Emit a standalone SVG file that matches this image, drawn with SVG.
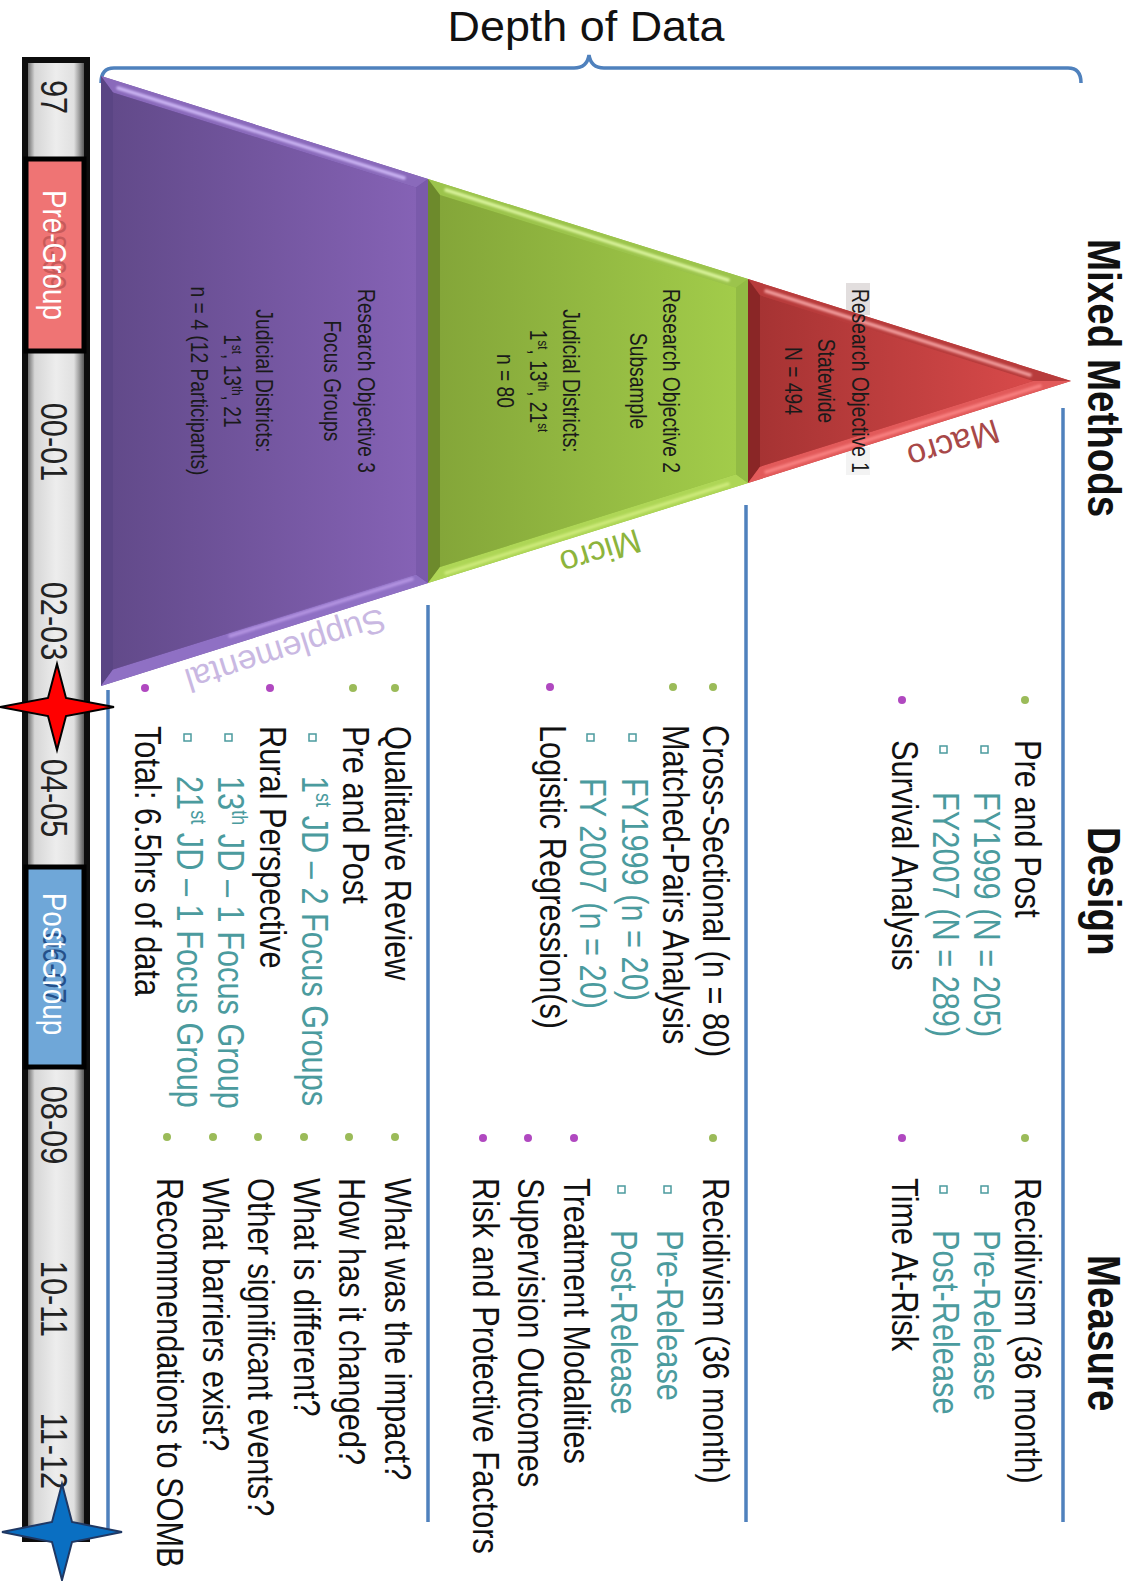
<svg xmlns="http://www.w3.org/2000/svg" width="1132" height="1581" viewBox="0 0 1132 1581">
<defs>
<style>
.t{font-family:"Liberation Sans",Arial,sans-serif;font-size:37.5px;fill:#111}
.tl{fill:#4b9b9e}
.h{font-family:"Liberation Sans",Arial,sans-serif;font-size:47px;font-weight:bold;fill:#111}
.f{font-family:"Liberation Sans",Arial,sans-serif;font-size:23.5px;fill:#1a1a1a;text-anchor:middle}
.y{font-family:"Liberation Sans",Arial,sans-serif;font-size:37.5px;fill:#222;text-anchor:middle}
.bg{fill:#9bbb59}
.bp{fill:#b048c0}
.sq{fill:#fff;stroke:#4b9b9e;stroke-width:1.5}
.div{stroke:#4f81bd;stroke-width:3.5;fill:none}
.lbl{font-family:"Liberation Sans",Arial,sans-serif;font-size:34px;text-anchor:middle}
.hl{fill:none;stroke-width:3.5;stroke-linecap:round;filter:url(#soft)}
</style>
<filter id="soft" x="-10%" y="-10%" width="120%" height="120%"><feGaussianBlur stdDeviation="1.2"/></filter>
<linearGradient id="gP" x1="0" y1="0" x2="1" y2="0"><stop offset="0" stop-color="#624a8a"/><stop offset="1" stop-color="#8562b5"/></linearGradient>
<linearGradient id="gG" x1="0" y1="0" x2="1" y2="0"><stop offset="0" stop-color="#84a639"/><stop offset="1" stop-color="#a2cc4a"/></linearGradient>
<linearGradient id="gR" x1="0" y1="0" x2="1" y2="0"><stop offset="0" stop-color="#a63333"/><stop offset="1" stop-color="#d84a4a"/></linearGradient>
<linearGradient id="gBar" x1="0" y1="0" x2="1" y2="0"><stop offset="0" stop-color="#707070"/><stop offset="0.12" stop-color="#d6d6d6"/><stop offset="0.5" stop-color="#ededed"/><stop offset="0.82" stop-color="#e0e0e0"/><stop offset="0.9" stop-color="#a8a8a8"/><stop offset="1" stop-color="#5a5a5a"/></linearGradient>
</defs>
<rect width="1132" height="1581" fill="#fff"/>

<g id="title">
<text x="586" y="41" text-anchor="middle" font-family="Liberation Sans, Arial, sans-serif" font-size="42" fill="#111" textLength="277" lengthAdjust="spacingAndGlyphs">Depth of Data</text>
</g>

<g id="connectors">
<path class="div" d="M101,83 Q101,68 114,68 L574,68 Q587,68 589,55 Q591,68 604,68 L1068,68 Q1081,68 1081,83"/>
<line class="div" x1="1063" y1="408" x2="1063" y2="1522"/>
<line class="div" x1="746" y1="505" x2="746" y2="1522"/>
<line class="div" x1="428" y1="605" x2="428" y2="1522"/>
<line class="div" x1="108" y1="690" x2="108" y2="1530"/>
</g>

<g id="timeline">
<rect x="22" y="57" width="68" height="1485" fill="#0d0d0d"/>
<rect x="28" y="63" width="56" height="1473" fill="url(#gBar)"/>
<rect x="26" y="159" width="58" height="192" fill="#ef7474" stroke="#000" stroke-width="5"/>
<rect x="26" y="867" width="58" height="200" fill="#6fa7d8" stroke="#000" stroke-width="5"/>
<g transform="translate(1132 0) rotate(90)">
<text class="y" transform="matrix(.82 0 0 1 97 1091)">97</text>
<text class="y" style="fill:#c75a5a;font-size:34px" transform="matrix(.82 0 0 1 255 1089)">98-99</text>
<text class="y" style="fill:#fff;font-size:34px" transform="matrix(.82 0 0 1 255 1089)">Pre-Group</text>
<text class="y" transform="matrix(.82 0 0 1 442 1091)">00-01</text>
<text class="y" transform="matrix(.82 0 0 1 621 1091)">02-03</text>
<text class="y" transform="matrix(.82 0 0 1 798 1091)">04-05</text>
<text class="y" style="fill:#24508a;font-size:34px" transform="matrix(.82 0 0 1 968 1089)">06-07</text>
<text class="y" style="fill:#fff;font-size:34px" transform="matrix(.82 0 0 1 964 1089)">Post-Group</text>
<text class="y" transform="matrix(.82 0 0 1 1125 1091)">08-09</text>
<text class="y" transform="matrix(.82 0 0 1 1299 1091)">10-11</text>
<text class="y" transform="matrix(.82 0 0 1 1451 1091)">11-12</text>
</g>
<path d="M0,707 L48,698 L57,664 L66,698 L114,707 L66,716 L57,750 L48,716 Z" fill="#ff0000" stroke="#000" stroke-width="2"/>
<path d="M2,1532 L52,1522 L62,1484 L72,1522 L122,1532 L72,1542 L62,1580 L52,1542 Z" fill="#0a6fc2" stroke="#1f3864" stroke-width="2"/>
</g>

<g id="objective3">
<polygon points="101,76 428,179 428,583 101,686" fill="#7657a6"/>
<polygon points="101,76 428,179 416,187.4 113,92.4" fill="#8a6abb"/>
<polygon points="101,76 113,92.4 113,669.6 101,686" fill="#5a4584"/>
<polygon points="101,686 113,669.6 416,574.6 428,583" fill="#8f70c4"/>
<polygon points="428,179 416,187.4 416,574.6 428,583" fill="#7a5aab"/>
<polygon points="113,92.4 416,187.4 416,574.6 113,669.6" fill="url(#gP)"/>
<line class="hl" x1="118" y1="88" x2="404" y2="178" stroke="#c9b2f2"/>
<line class="hl" x1="230" y1="636" x2="412" y2="579" stroke="#b99ae6" opacity="0.85"/>
<g transform="translate(1132 0) rotate(90)">
<text class="f" transform="matrix(.82 0 0 1 381 774)">Research Objective 3</text>
<text class="f" transform="matrix(.82 0 0 1 381 808)">Focus Groups</text>
<text class="f" transform="matrix(.82 0 0 1 381 876)">Judicial Districts:</text>
<text class="f" transform="matrix(.82 0 0 1 381 908)">1<tspan font-size="14" dy="-8">st</tspan><tspan dy="8">, 13</tspan><tspan font-size="14" dy="-8">th</tspan><tspan dy="8">, 21</tspan></text>
<text class="f" transform="matrix(.82 0 0 1 381 941)">n = 4 (12 Participants)</text>
</g>
</g>

<g id="objective2">
<polygon points="428,179 748,279 748,483 428,583" fill="#94bc45"/>
<polygon points="428,179 748,279 736,287.8 440,194.9" fill="#9cc44c"/>
<polygon points="428,179 440,194.9 440,567.1 428,583" fill="#6d8a2c"/>
<polygon points="428,583 440,567.1 736,474.2 748,483" fill="#aed656"/>
<polygon points="748,279 736,287.8 736,474.2 748,483" fill="#92bb44"/>
<polygon points="440,194.9 736,287.8 736,474.2 440,567.1" fill="url(#gG)"/>
<line class="hl" x1="446" y1="190" x2="728" y2="280" stroke="#d8f29a"/>
<line class="hl" x1="446" y1="573" x2="728" y2="484" stroke="#cdea7a"/>
<g transform="translate(1132 0) rotate(90)">
<text class="f" transform="matrix(.82 0 0 1 381 469)">Research Objective 2</text>
<text class="f" transform="matrix(.82 0 0 1 381 502)">Subsample</text>
<text class="f" transform="matrix(.82 0 0 1 381 569)">Judicial Districts:</text>
<text class="f" transform="matrix(.82 0 0 1 381 602)">1<tspan font-size="14" dy="-8">st</tspan><tspan dy="8">, 13</tspan><tspan font-size="14" dy="-8">th</tspan><tspan dy="8">, 21</tspan><tspan font-size="14" dy="-8">st</tspan></text>
<text class="f" transform="matrix(.82 0 0 1 381 635)">n = 80</text>
</g>
</g>

<g id="objective1">
<rect x="846" y="283" width="24" height="32" fill="#e2dede"/>
<rect x="846" y="447" width="24" height="28" fill="#f3f3f3"/>
<polygon points="748,279 1071,381 748,483" fill="#c04040"/>
<polygon points="748,279 1071,381 1033,381 760,295.3" fill="#b83c3c"/>
<polygon points="748,279 760,295.3 760,466.7 748,483" fill="#8a2626"/>
<polygon points="748,483 760,466.7 1033,381 1071,381" fill="#e25a5a"/>
<polygon points="760,295.3 1033,381 760,466.7" fill="url(#gR)"/>
<line class="hl" x1="766" y1="291" x2="1030" y2="375" stroke="#f09a9a"/>
<line class="hl" x1="766" y1="472" x2="1040" y2="386" stroke="#f88080"/>
<g transform="translate(1132 0) rotate(90)">
<text class="f" transform="matrix(.82 0 0 1 381 280)">Research Objective 1</text>
<text class="f" transform="matrix(.82 0 0 1 381 314)">Statewide</text>
<text class="f" transform="matrix(.82 0 0 1 381 347)">N = 494</text>
</g>
</g>

<g id="scale-labels">
<text class="lbl" fill="#a84848" transform="translate(950 433) rotate(162.5)">Macro</text>
<text class="lbl" fill="#8db43c" transform="translate(597 541) rotate(162.5)">Micro</text>
<text class="lbl" fill="#c9b8e2" transform="translate(282 639) rotate(162.5)">Supplemental</text>
</g>

<g id="headers" transform="translate(1132 0) rotate(90)">
<text class="h" transform="matrix(.82 0 0 1 239 44)">Mixed Methods</text>
<text class="h" transform="matrix(.82 0 0 1 827 44)">Design</text>
<text class="h" transform="matrix(.82 0 0 1 1255 44)">Measure</text>
</g>

<g id="row-objective1" transform="translate(1132 0) rotate(90)">
<circle class="bg" cx="700" cy="107" r="4"/>
<text class="t" transform="matrix(.82 0 0 1 740 117)">Pre and Post</text>
<rect class="sq" x="746" y="144" width="7" height="7"/>
<text class="t tl" transform="matrix(.82 0 0 1 792 158)">FY1999 (N = 205)</text>
<rect class="sq" x="746" y="185" width="7" height="7"/>
<text class="t tl" transform="matrix(.82 0 0 1 792 199)">FY2007 (N = 289)</text>
<circle class="bp" cx="700" cy="230" r="4"/>
<text class="t" transform="matrix(.82 0 0 1 740 240)">Survival Analysis</text>
<circle class="bg" cx="1138" cy="107" r="4"/>
<text class="t" transform="matrix(.82 0 0 1 1178 117)">Recidivism (36 month)</text>
<rect class="sq" x="1186" y="144" width="7" height="7"/>
<text class="t tl" transform="matrix(.82 0 0 1 1230 158)">Pre-Release</text>
<rect class="sq" x="1186" y="185" width="7" height="7"/>
<text class="t tl" transform="matrix(.82 0 0 1 1230 199)">Post-Release</text>
<circle class="bp" cx="1138" cy="230" r="4"/>
<text class="t" transform="matrix(.82 0 0 1 1178 240)">Time At-Risk</text>
</g>

<g id="row-objective2" transform="translate(1132 0) rotate(90)">
<circle class="bg" cx="687" cy="419" r="4"/>
<text class="t" transform="matrix(.82 0 0 1 725 429)">Cross-Sectional (n = 80)</text>
<circle class="bg" cx="687" cy="459" r="4"/>
<text class="t" transform="matrix(.82 0 0 1 725 469)">Matched-Pairs Analysis</text>
<rect class="sq" x="734" y="496" width="7" height="7"/>
<text class="t tl" transform="matrix(.82 0 0 1 778 510)">FY1999 (n = 20)</text>
<rect class="sq" x="734" y="538" width="7" height="7"/>
<text class="t tl" transform="matrix(.82 0 0 1 778 552)">FY 2007 (n = 20)</text>
<circle class="bp" cx="687" cy="582" r="4"/>
<text class="t" transform="matrix(.82 0 0 1 725 592)">Logistic Regression(s)</text>
<circle class="bg" cx="1138" cy="419" r="4"/>
<text class="t" transform="matrix(.82 0 0 1 1178 429)">Recidivism (36 month)</text>
<rect class="sq" x="1186" y="461" width="7" height="7"/>
<text class="t tl" transform="matrix(.82 0 0 1 1230 475)">Pre-Release</text>
<rect class="sq" x="1186" y="507" width="7" height="7"/>
<text class="t tl" transform="matrix(.82 0 0 1 1230 521)">Post-Release</text>
<circle class="bp" cx="1138" cy="558" r="4"/>
<text class="t" transform="matrix(.82 0 0 1 1178 568)">Treatment Modalities</text>
<circle class="bp" cx="1138" cy="604" r="4"/>
<text class="t" transform="matrix(.82 0 0 1 1178 614)">Supervision Outcomes</text>
<circle class="bp" cx="1138" cy="649" r="4"/>
<text class="t" transform="matrix(.82 0 0 1 1178 659)">Risk and Protective Factors</text>
</g>

<g id="row-objective3" transform="translate(1132 0) rotate(90)">
<circle class="bg" cx="688" cy="737" r="4"/>
<text class="t" transform="matrix(.82 0 0 1 726 747)">Qualitative Review</text>
<circle class="bg" cx="688" cy="779" r="4"/>
<text class="t" transform="matrix(.82 0 0 1 726 789)">Pre and Post</text>
<rect class="sq" x="734" y="816" width="7" height="7"/>
<text class="t tl" transform="matrix(.82 0 0 1 776 830)">1<tspan font-size="22" dy="-14">st</tspan><tspan dy="14"> JD – 2 Focus Groups</tspan></text>
<circle class="bp" cx="688" cy="862" r="4"/>
<text class="t" transform="matrix(.82 0 0 1 726 872)">Rural Perspective</text>
<rect class="sq" x="734" y="900" width="7" height="7"/>
<text class="t tl" transform="matrix(.82 0 0 1 776 914)">13<tspan font-size="22" dy="-14">th</tspan><tspan dy="14"> JD – 1 Focus Group</tspan></text>
<rect class="sq" x="734" y="941" width="7" height="7"/>
<text class="t tl" transform="matrix(.82 0 0 1 776 955)">21<tspan font-size="22" dy="-14">st</tspan><tspan dy="14"> JD – 1 Focus Group</tspan></text>
<circle class="bp" cx="688" cy="987" r="4"/>
<text class="t" transform="matrix(.82 0 0 1 726 997)">Total: 6.5hrs of data</text>
<circle class="bg" cx="1137" cy="737" r="4"/>
<text class="t" transform="matrix(.82 0 0 1 1178 747)">What was the impact?</text>
<circle class="bg" cx="1137" cy="783" r="4"/>
<text class="t" transform="matrix(.82 0 0 1 1178 793)">How has it changed?</text>
<circle class="bg" cx="1137" cy="828" r="4"/>
<text class="t" transform="matrix(.82 0 0 1 1178 838)">What is different?</text>
<circle class="bg" cx="1137" cy="874" r="4"/>
<text class="t" transform="matrix(.82 0 0 1 1178 884)">Other significant events?</text>
<circle class="bg" cx="1137" cy="919" r="4"/>
<text class="t" transform="matrix(.82 0 0 1 1178 929)">What barriers exist?</text>
<circle class="bg" cx="1137" cy="965" r="4"/>
<text class="t" transform="matrix(.82 0 0 1 1178 975)">Recommendations to SOMB</text>
</g>
</svg>
